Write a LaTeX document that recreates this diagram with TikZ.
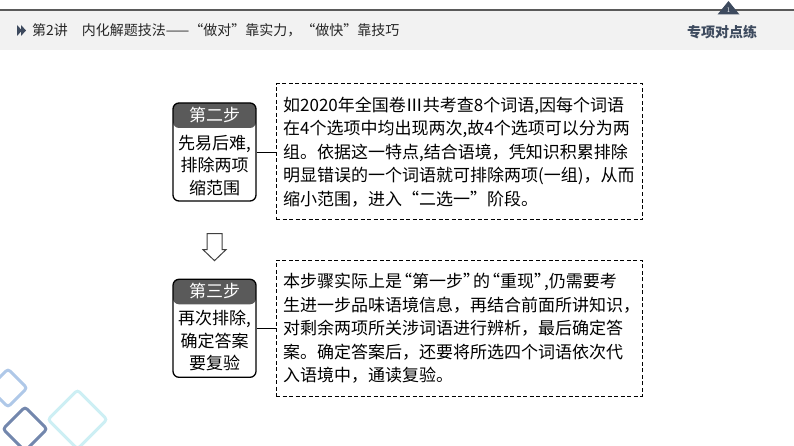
\documentclass[tikz,border=0pt]{standalone}
\usepackage{fontspec}
\usepackage{tikz}
\usetikzlibrary{positioning}
\newfontfamily\cjk{Noto Sans CJK SC}
\newcommand\oq{\makebox[10pt][r]{“}}
\newcommand\cq{\makebox[10pt][l]{”}}

\definecolor{hdrgray}{HTML}{5A5A5A}
\definecolor{bandgray}{HTML}{F2F2F2}
\definecolor{slate}{HTML}{3D4A5E}
\definecolor{dmlight}{HTML}{AFC8E8}
\definecolor{dmdark}{HTML}{7387AD}
\definecolor{dmcyan}{HTML}{CDEFF4}

\tikzset{
  stepbox/.style={draw, line width=1.3pt, rounded corners=6pt,
    minimum width=83pt, minimum height=98pt, inner sep=0pt,
    path picture={\fill[hdrgray] (path picture bounding box.north west)
      rectangle ([yshift=-25pt]path picture bounding box.north east);}},
  stephead/.style={text=white, inner sep=0pt, font=\cjk\fontsize{17}{20}\selectfont},
  steptext/.style={align=center, inner sep=0pt, font=\cjk\fontsize{17}{22.5}\selectfont},
  detail/.style={draw, line width=1pt, dash pattern=on 4pt off 2.5pt,
    text width=352pt, inner xsep=7pt, minimum height=136pt, align=left,
    font=\cjk\fontsize{17}{23.5}\selectfont},
  link/.style={line width=0.8pt},
  deco/.style={line width=3pt, rounded corners=3pt}
}

\begin{document}
\begin{tikzpicture}[x=1pt, y=-1pt]
  \useasboundingbox (0,0) rectangle (794,446);

  % Header band
  \fill[bandgray] (0,10) rectangle (794,50);
  \draw[hdrgray, line width=1.2pt] (0,10) -- (794,10);
  \fill[slate] (17,25) -- (22,30.5) -- (17,36) -- cycle;
  \fill[slate] (21,25) -- (26,30.5) -- (21,36) -- cycle;
  \node[anchor=west, inner sep=0pt, text=black!85, font=\cjk\fontsize{14}{16}\selectfont] (title) at (32,30)
    {第2讲\quad 内化解题技法——“做对”靠实力，“做快”靠技巧};
  \fill[slate] (728.5,1) -- (739.5,14.5) -- (717.5,14.5) -- cycle;
  \node[text=white, inner sep=0pt, font=\fontsize{7}{8}\selectfont] (badge_num) at (728.5,10) {1};
  \node[text=slate, inner sep=0pt, font=\cjk\bfseries\fontsize{14}{16}\selectfont] (badge) at (722,32) {专项对点练};

  % Define nodes
  \node[stepbox] (step_two) at (214.5,152) {};
  \node[stephead] (head_two) at ([yshift=-12.5pt]step_two.north) {第二步};
  \node[steptext] (text_two) at ([yshift=-63pt]step_two.north) {先易后难,\\排除两项\\缩范围};
  \node[detail, right=19pt of step_two] (detail_two)
    {如2020年全国卷Ⅲ共考查8个词语,因每个词语\\
     在4个选项中均出现两次,故4个选项可以分为两\\
     组。依据这一特点,结合语境，凭知识积累排除\\
     明显错误的一个词语就可排除两项(一组)，从而\\
     缩小范围，进入“二选一”阶段。};

  \node[stepbox, below=77pt of step_two] (step_three) {};
  \node[stephead] (head_three) at ([yshift=-12.5pt]step_three.north) {第三步};
  \node[steptext] (text_three) at ([yshift=-62pt]step_three.north) {再次排除,\\确定答案\\要复验};
  \node[detail, right=19pt of step_three] (detail_three)
    {本步骤实际上是\oq 第一步\cq 的\oq 重现\cq,仍需要考\\
     生进一步品味语境信息，再结合前面所讲知识，\\
     对剩余两项所关涉词语进行辨析，最后确定答\\
     案。确定答案后，还要将所选四个词语依次代\\
     入语境中，通读复验。};

  % Connect the nodes
  \draw[link] (step_two.east) -- (detail_two.west);
  \draw[link] (step_three.east) -- (detail_three.west);
  \coordinate[below=32pt of step_two.south] (arrow_top);
  \draw[line width=1pt, draw=black!75, fill=white] ([xshift=-7.5pt]arrow_top) -- ++(0,16) -- ++(-4,0)
    -- ++(11.5,11) -- ++(11.5,-11) -- ++(-4,0) -- ++(0,-16) -- cycle;

  % Corner decoration
  \draw[deco, dmlight] (8,369) -- (27,388) -- (8,407) -- (-11,388) -- cycle;
  \draw[deco, dmcyan] (77.5,390) -- (107,419.5) -- (77.5,449) -- (48,419.5) -- cycle;
  \draw[deco, dmdark] (25,407) -- (47,429) -- (25,451) -- (3,429) -- cycle;
\end{tikzpicture}
\end{document}
